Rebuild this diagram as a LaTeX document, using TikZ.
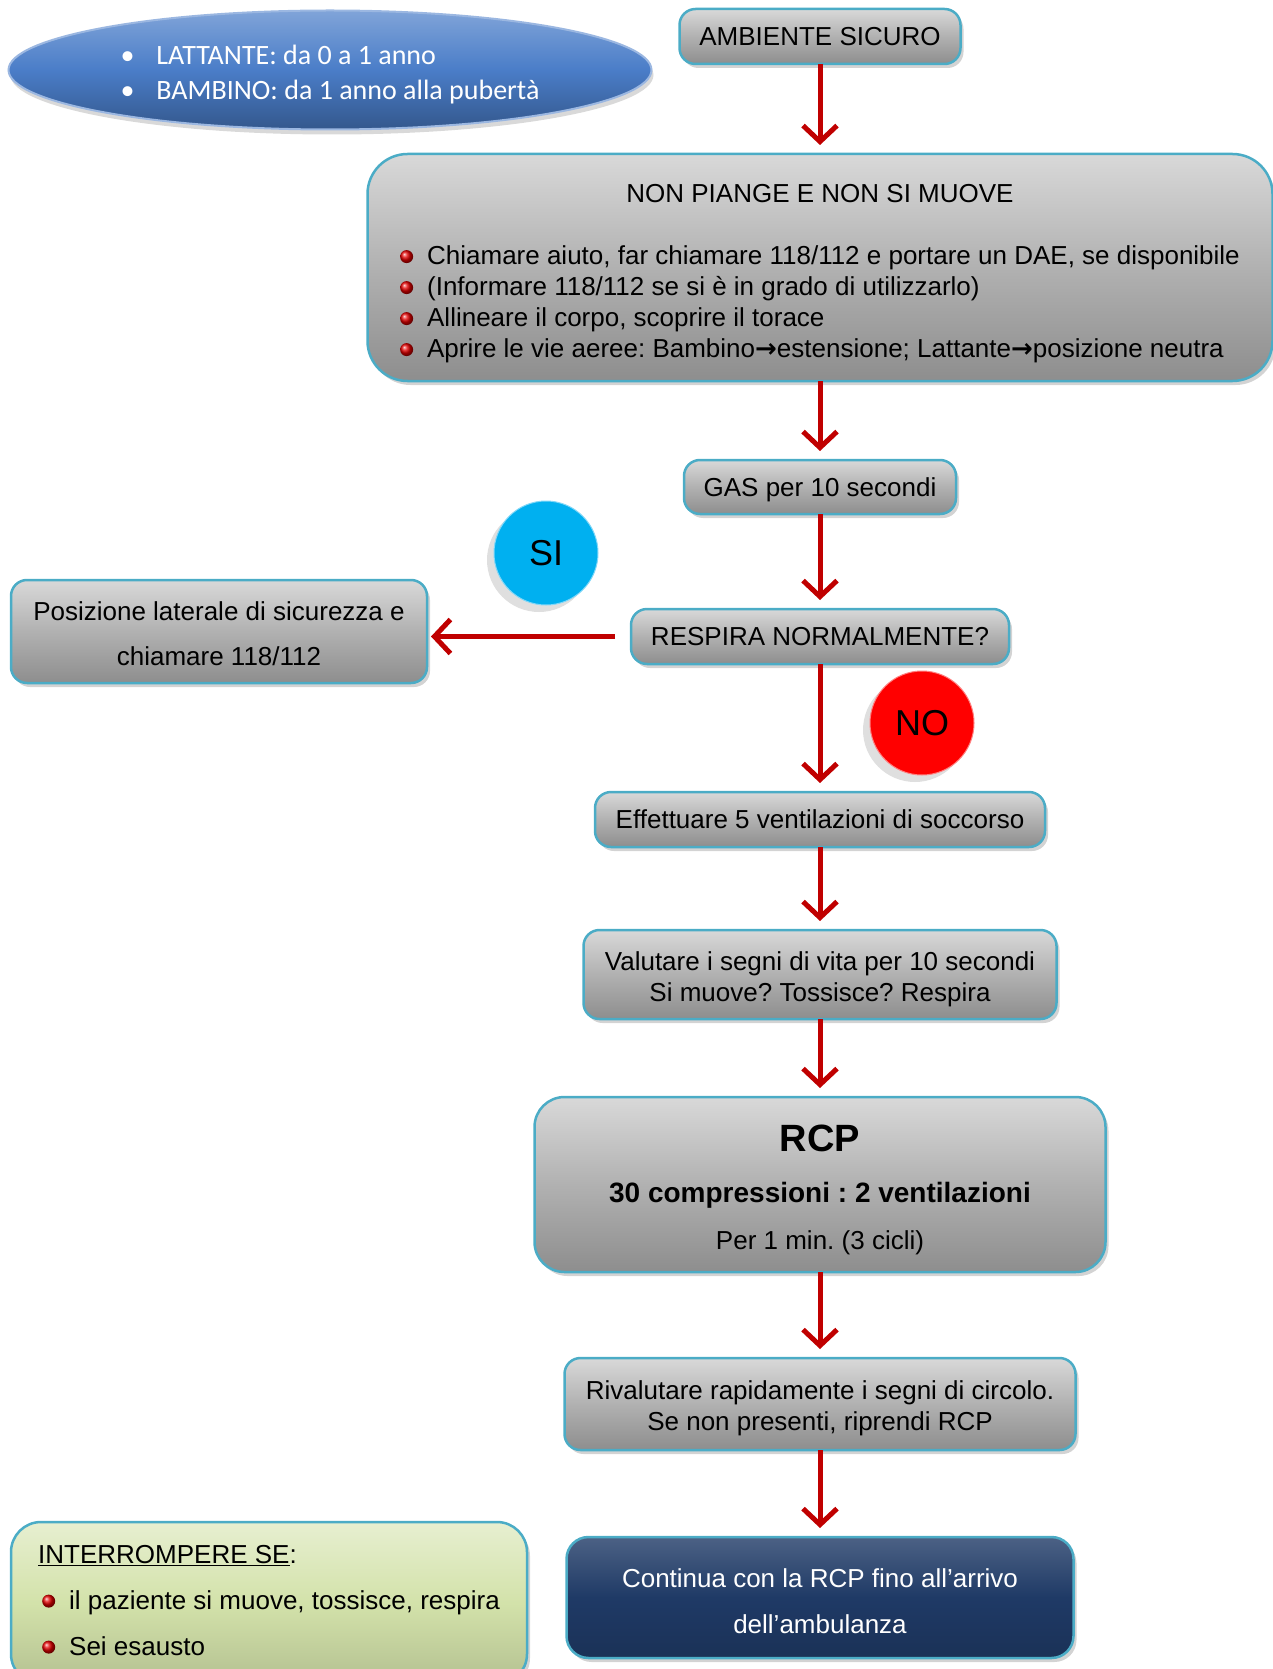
\documentclass[tikz,border=0pt]{standalone}
\usepackage{fontspec}
\setmainfont{Liberation Sans}
\newfontfamily\calibri{Carlito}
\newfontfamily\arrowfont{DejaVu Sans}
\usepackage{tikz}
\usetikzlibrary{arrows.meta, positioning, shapes.geometric, shadows}
\frenchspacing

\definecolor{boxgray}{HTML}{B1B1B1}
\definecolor{rimblue}{HTML}{4BACC6}
\definecolor{arrowred}{HTML}{C00000}
\definecolor{ovalblue}{HTML}{4A7DC8}
\definecolor{siblue}{HTML}{00B0F0}
\definecolor{nored}{HTML}{FF0000}
\definecolor{stopgreen}{HTML}{D3E2AA}
\definecolor{endblue}{HTML}{1F3A66}

\newcommand{\redbullet}{\tikz[baseline=-0.6ex]\shade[ball color=red!90!black]
  (0,0) circle (6.5pt);\hspace{14pt}}
\newcommand{\linestrut}{\rule[-0.21em]{0pt}{1.12em}}
\newcommand{\toparrow}{{\arrowfont\bfseries →}}

\begin{document}
\begin{tikzpicture}[x=1pt, y=-1pt, ->, >={Straight Barb[length=16pt, width=34pt]}]
  \tikzstyle{stepbox} = [draw=rimblue, line width=2.5pt, rounded corners=16pt,
    top color=gray!30, bottom color=boxgray!80!black, middle color=boxgray,
    drop shadow={shadow xshift=3pt, shadow yshift=-4pt, opacity=.35},
    align=center, inner sep=0pt, outer sep=0pt, font=\fontsize{26}{31}\selectfont,
    execute at begin node=\linestrut, execute at end node=\linestrut]
  \tikzstyle{answer} = [circle, minimum size=104pt, inner sep=0pt,
    drop shadow={shadow xshift=-7pt, shadow yshift=-7pt, opacity=.25},
    font=\fontsize{36}{40}\selectfont]
  \tikzstyle{flow} = [draw=arrowred, line width=5pt, shorten >=9pt]
  \useasboundingbox (0,0) rectangle (1273,1669);

  \node [ellipse, draw=ovalblue!55!white, line width=2pt, top color=ovalblue!70!white,
    bottom color=ovalblue!70!black, middle color=ovalblue, minimum width=643pt,
    minimum height=119pt, inner sep=0pt, text=white, align=left,
    drop shadow={shadow xshift=2pt, shadow yshift=-5pt, opacity=.3},
    font=\calibri\fontsize{28}{35}\selectfont] at (330,70) (age)
    {\rule{0pt}{29pt}\textbullet\hspace{22pt}LATTANTE: da 0 a 1 anno\\
     \textbullet\hspace{22pt}BAMBINO: da 1 anno alla pubertà};

  \node [stepbox, minimum width=281pt, minimum height=55pt] at (820,36.5) (safe)
    {AMBIENTE SICURO};
  \node [stepbox, rounded corners=40pt, minimum width=905pt, minimum height=227pt,
    below=90pt of safe] (check) {\rule{0pt}{35pt}NON PIANGE E NON SI MUOVE\\[31pt]
    \begin{tabular}[t]{@{}l@{}}
      \redbullet Chiamare aiuto, far chiamare 118/112 e portare un DAE, se disponibile\\
      \redbullet (Informare 118/112 se si è in grado di utilizzarlo)\\
      \redbullet Allineare il corpo, scoprire il torace\\
      \redbullet Aprire le vie aeree: Bambino\toparrow estensione; Lattante\toparrow posizione neutra
    \end{tabular}};
  \node [stepbox, minimum width=272pt, minimum height=54pt, below=79pt of check] (gas)
    {GAS per 10 secondi};
  \node [stepbox, minimum width=378pt, minimum height=55pt, below=95pt of gas] (breath)
    {RESPIRA NORMALMENTE?};
  \node [stepbox, minimum width=416pt, minimum height=103pt, font=\fontsize{26}{45}\selectfont]
    at (219,631.5) (recovery) {\rule{0pt}{28pt}Posizione laterale di sicurezza e\\chiamare 118/112};
  \node [answer, fill=siblue, draw=siblue!50!white, line width=1pt] at (546,553) (yes) {SI};
  \node [answer, fill=nored, draw=nored!50!white, line width=1pt] at (922,723) (no) {NO};
  \node [stepbox, minimum width=450pt, minimum height=55pt, below=128pt of breath] (rescue)
    {Effettuare 5 ventilazioni di soccorso};
  \node [stepbox, minimum width=473pt, minimum height=89pt, below=83pt of rescue] (signs)
    {\rule{0pt}{28pt}Valutare i segni di vita per 10 secondi\\Si muove? Tossisce? Respira};
  \node [stepbox, rounded corners=30pt, minimum width=571pt, minimum height=175pt,
    below=78pt of signs] (cpr)
    {{\fontsize{38}{42}\selectfont\bfseries\rule{0pt}{37pt}RCP}\\[20pt]
     {\fontsize{28}{32}\selectfont\bfseries 30 compressioni : 2 ventilazioni}\\[16pt]
     Per 1 min. (3 cicli)};
  \node [stepbox, minimum width=511pt, minimum height=92pt, below=86pt of cpr] (recheck)
    {\rule{0pt}{27pt}Rivalutare rapidamente i segni di circolo.\\Se non presenti, riprendi RCP};
  \node [stepbox, rounded corners=22pt, top color=endblue!80!white, bottom color=endblue!85!black,
    middle color=endblue, text=white, minimum width=507pt, minimum height=121pt,
    font=\fontsize{26}{46}\selectfont, below=87pt of recheck] (ambulance)
    {\rule{0pt}{32pt}Continua con la RCP fino all’arrivo\\dell’ambulanza};
  \node [stepbox, rounded corners=30pt, top color=stopgreen!55!white, bottom color=stopgreen!85!black,
    middle color=stopgreen, minimum width=516pt, minimum height=162pt,
    align=left, font=\fontsize{26}{46}\selectfont] at (269,1603) (stop)
    {\underline{INTERROMPERE SE}:\\
     \hspace*{4pt}\redbullet il paziente si muove, tossisce, respira\\
     \hspace*{4pt}\redbullet Sei esausto};

  \draw [flow] (safe.south) -- (safe.south |- check.north);
  \draw [flow] (check.south) -- (check.south |- gas.north);
  \draw [flow] (gas.south) -- (gas.south |- breath.north);
  \draw [flow] (breath.south) -- (breath.south |- rescue.north);
  \draw [flow, shorten <=16pt, shorten >=4pt] (breath.west) -- (breath.west -| recovery.east);
  \draw [flow] (rescue.south) -- (rescue.south |- signs.north);
  \draw [flow] (signs.south) -- (signs.south |- cpr.north);
  \draw [flow] (cpr.south) -- (cpr.south |- recheck.north);
  \draw [flow] (recheck.south) -- (recheck.south |- ambulance.north);
\end{tikzpicture}
\end{document}
